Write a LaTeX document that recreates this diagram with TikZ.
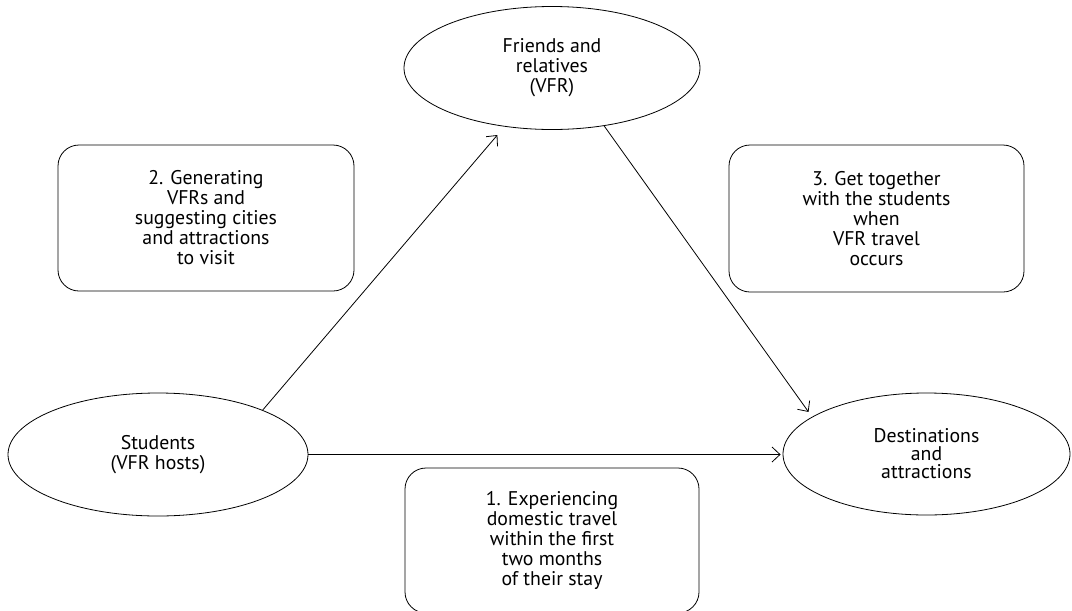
\documentclass[tikz,border=0pt]{standalone}
\usepackage{fontspec}
\setmainfont{PT Sans}
\usetikzlibrary{shapes.geometric,arrows.meta}
\begin{document}
\begin{tikzpicture}[x=1pt,y=-1pt,
  every node/.style={font=\fontsize{19.8}{20}\selectfont, align=center},
  oval/.style={draw, ellipse, line width=0.8pt, inner sep=0pt},
  card/.style={draw, rounded corners=21pt, line width=0.8pt, inner sep=0pt},
  link/.style={line width=0.8pt, -{Straight Barb[length=8pt,width=15pt]}}]
\useasboundingbox (0,0) rectangle (1072,611);
\node[oval, minimum width=296pt, minimum height=123pt] (fr) at (552,68) {Friends and\\relatives\\(VFR)};
\node[oval, minimum width=300pt, minimum height=123pt] (stu) at (158,454.5) {Students\\(VFR hosts)};
\node[oval, minimum width=287pt, minimum height=122pt, font=\fontsize{19.8}{18}\selectfont] (dst) at (926.5,454) {Destinations\\and\\attractions};
\node[card, minimum width=296pt, minimum height=146pt] (b2) at (206,218) {2. Generating\\VFRs and\\suggesting cities\\and attractions\\to visit};
\node[card, minimum width=295pt, minimum height=147pt] (b3) at (876.5,218.5) {3. Get together\\with the students\\when\\VFR travel\\occurs};
\node[card, minimum width=294pt, minimum height=145pt] (b1) at (552,540.5) {1. Experiencing\\domestic travel\\within the first\\two months\\of their stay};
\draw[link, shorten >=11pt] (stu.23) -- (fr.231);
\draw[link, shorten >=6pt] (fr.312) -- (dst.162);
\draw[link, shorten >=2pt] (stu.east) -- (stu.east -| dst.west);
\end{tikzpicture}
\end{document}
